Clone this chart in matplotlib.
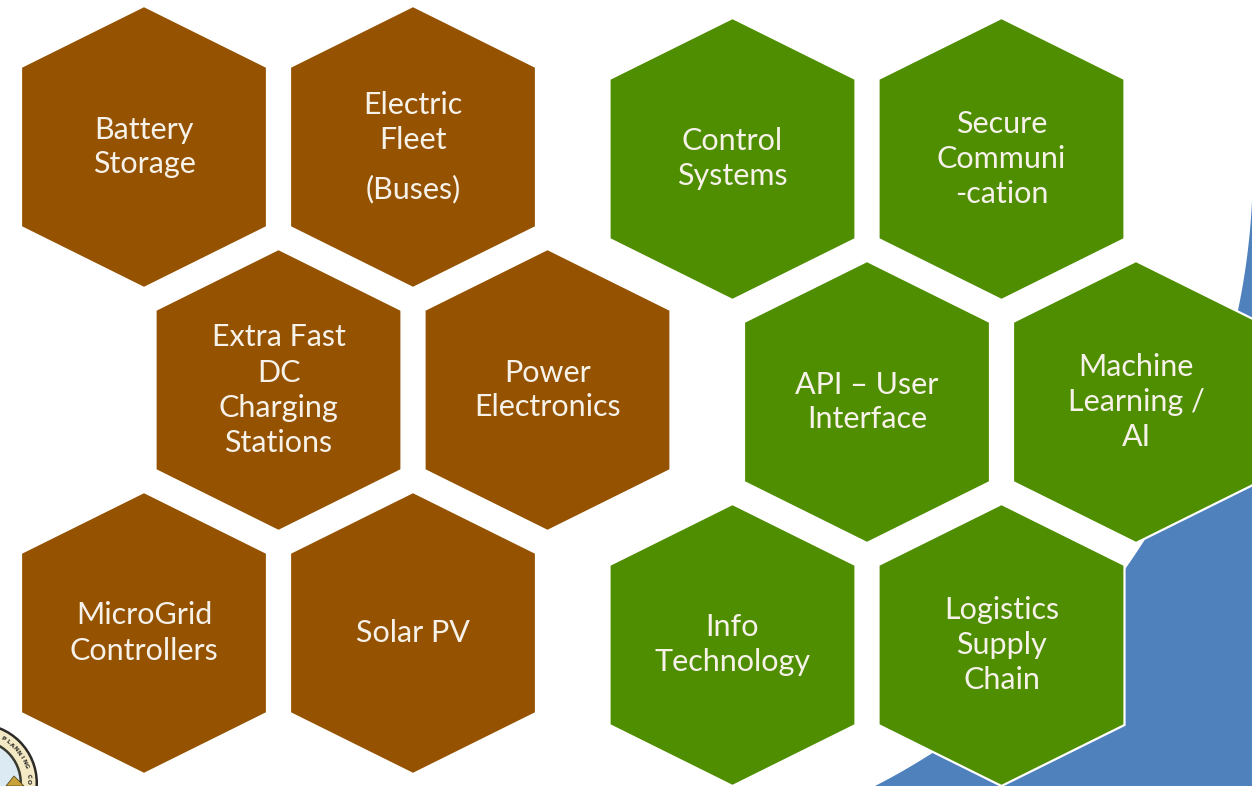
import numpy as np
import matplotlib
matplotlib.use("Agg")
import matplotlib.pyplot as plt
from matplotlib.patches import Polygon, Circle
from matplotlib import font_manager

# ---------------- data ----------------
brown_labels = [
    "Battery\nStorage",
    "Electric\nFleet\n\n(Buses)",
    "Extra Fast\nDC\nCharging\nStations",
    "Power\nElectronics",
    "MicroGrid\nControllers",
    "Solar PV",
]
brown_rows = [0, 0, 1, 1, 2, 2]
brown_cols = [0, 1, 0, 1, 0, 1]

green_labels = [
    "Control\nSystems",
    "Secure\nCommuni\n-cation",
    "API \u2013 User\nInterface",
    "Machine\nLearning /\nAI",
    "Info\nTechnology",
    "Logistics\nSupply\nChain",
]
green_rows = [0, 0, 1, 1, 2, 2]
green_cols = [0, 1, 0, 1, 0, 1]

seal_text = "PLANNING CO"

# ---------------- style / layout ----------------
W, H = 1252, 786
BROWN = "#955200"
GREEN = "#4E8E00"
BLUE = "#4F81BD"
TXT = "#F6F2EA"
COL_STEP = 269
ROW_STEP = 243
HALF_W = 123
APEX = 141
SHOULDER = 80
LINE = 35
PARA_GAP = 14

avail = {f.name for f in font_manager.fontManager.ttflist}
family = [f for f in ["Lato", "Open Sans", "Noto Sans", "DejaVu Sans"] if f in avail]

fig = plt.figure(figsize=(W / 100, H / 100), dpi=100)
ax = fig.add_axes([0, 0, 1, 1])
ax.set_xlim(0, W)
ax.set_ylim(H, 0)
ax.axis("off")

# blue ring segment behind (inner edge is a large circle)
cx, cy, r_in, r_out = 557.6, 167.5, 695.2, 1400
th = np.radians(np.linspace(2.7, 70, 200))
inner = np.c_[cx + r_in * np.cos(th), cy + r_in * np.sin(th)]
outer = np.c_[cx + r_out * np.cos(th[::-1]), cy + r_out * np.sin(th[::-1])]
ax.add_patch(Polygon(np.vstack([inner, outer]), closed=True, facecolor=BLUE,
                     edgecolor="none", zorder=1))

# partial seal logo bottom-left
lx, ly = -22, 783
ax.add_patch(Circle((lx, ly), 60, facecolor="#2B2A26", edgecolor="none", zorder=2))
ax.add_patch(Circle((lx, ly), 57.5, facecolor="#F3E9C4", edgecolor="none", zorder=2))
ax.add_patch(Circle((lx, ly), 44, facecolor="#3A3A30", edgecolor="none", zorder=2))
ax.add_patch(Circle((lx, ly), 41.5, facecolor="#DCEAF3", edgecolor="none", zorder=2))
ax.add_patch(Polygon([[6, 786], [14, 776], [24, 786]], closed=True,
                     facecolor="#C9A23A", edgecolor="#5A4A20", linewidth=0.6, zorder=2))
angs = np.linspace(-60, -2, len(seal_text))
for ch, a in zip(seal_text, angs):
    ar = np.radians(a)
    px, py = lx + 50.5 * np.cos(ar), ly + 50.5 * np.sin(ar)
    if ch.strip() and 3 < px < W - 3 and 3 < py < H - 4:
        ax.text(px, py, ch, fontsize=4.3, color="#2B2A26", ha="center", va="center",
                rotation=-a - 90, fontweight="bold", zorder=3)


def hexagon(x0, y0, color):
    pts = [(x0, y0 - APEX), (x0 + HALF_W, y0 - SHOULDER), (x0 + HALF_W, y0 + SHOULDER),
           (x0, y0 + APEX), (x0 - HALF_W, y0 + SHOULDER), (x0 - HALF_W, y0 - SHOULDER)]
    ax.add_patch(Polygon(pts, closed=True, facecolor=color, edgecolor="white",
                         linewidth=1.6, zorder=4))


def label(x0, y0, text):
    ys = []
    y = 0.0
    first = True
    for ln in text.split("\n"):
        if ln == "":
            y += PARA_GAP
            continue
        if not first:
            y += LINE
        ys.append((y, ln))
        first = False
    span = ys[-1][0]
    for yy, ln in ys:
        ax.text(x0, y0 - span / 2 + yy, ln, ha="center", va="center", color=TXT,
                fontsize=22, family=family, fontweight="normal", zorder=5)


def group(labels, rows, cols, ox, oy, color):
    for lab, rw, cl in zip(labels, rows, cols):
        x0 = ox + cl * COL_STEP + (COL_STEP / 2 if rw % 2 == 1 else 0)
        y0 = oy + rw * ROW_STEP
        hexagon(x0, y0, color)
        label(x0, y0, lab)


group(brown_labels, brown_rows, brown_cols, 144, 147, BROWN)
group(green_labels, green_rows, green_cols, 732.5, 159, GREEN)

fig.savefig("out.png", dpi=100, facecolor="white")
